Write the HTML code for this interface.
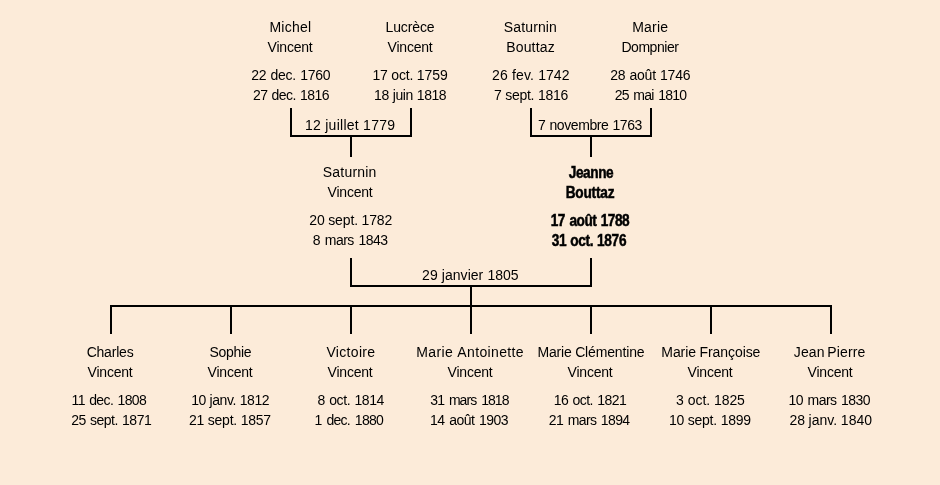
<!DOCTYPE html>
<html lang="fr">
<head>
<meta charset="utf-8">
<title>Arbre généalogique</title>
<style>
html,body{margin:0;padding:0}
body{width:940px;height:485px;background:#fcebd9;position:relative;overflow:hidden;font-family:"Liberation Sans",sans-serif;font-size:14px;color:#000}
#w{position:absolute;left:0;top:0;width:940px;height:485px;will-change:transform}
.t{position:absolute;width:200px;text-align:center;line-height:20px;white-space:nowrap}
.b{font-weight:bold;-webkit-text-stroke:0.5px #000;font-size:15.7px;transform:scaleX(0.87)}
.l{position:absolute;background:#000}
</style>
</head>
<body>
<div id="w">
<div class="t" style="left:190.37px;top:17px;letter-spacing:0.24px">Michel</div>
<div class="t" style="left:190.09px;top:37px;letter-spacing:-0.21px">Vincent</div>
<div class="t" style="left:190.66px;top:65px;letter-spacing:-0.3px;word-spacing:0.81px">22 dec. 1760</div>
<div class="t" style="left:190.98px;top:85px;letter-spacing:-0.56px;word-spacing:0.92px">27 dec. 1816</div>
<div class="t" style="left:310px;top:17px;letter-spacing:-0.14px">Lucrèce</div>
<div class="t" style="left:310.09px;top:37px;letter-spacing:-0.21px">Vincent</div>
<div class="t" style="left:310.03px;top:65px;letter-spacing:-0.11px;word-spacing:-0.3px">17 oct. 1759</div>
<div class="t" style="left:310.13px;top:85px;letter-spacing:-0.46px;word-spacing:0.65px">18 juin 1818</div>
<div class="t" style="left:430.43px;top:17px;letter-spacing:0.12px">Saturnin</div>
<div class="t" style="left:430.54px;top:37px;letter-spacing:0.18px">Bouttaz</div>
<div class="t" style="left:430.85px;top:65px;letter-spacing:0.07px;word-spacing:0.32px">26 fev. 1742</div>
<div class="t" style="left:430.99px;top:85px;letter-spacing:-0.26px;word-spacing:0.04px">7 sept. 1816</div>
<div class="t" style="left:550.27px;top:17px;letter-spacing:0.24px">Marie</div>
<div class="t" style="left:549.95px;top:37px;letter-spacing:-0.46px">Dompnier</div>
<div class="t" style="left:550.22px;top:65px;letter-spacing:-0.25px;word-spacing:0.62px">28 août 1746</div>
<div class="t" style="left:550.5px;top:85px;letter-spacing:-0.77px;word-spacing:1.58px">25 mai 1810</div>
<div class="t" style="left:249.7px;top:162px;letter-spacing:0.21px">Saturnin</div>
<div class="t" style="left:250.09px;top:182px;letter-spacing:-0.21px">Vincent</div>
<div class="t" style="left:250.8px;top:210px;letter-spacing:-0.11px;word-spacing:-0.28px">20 sept. 1782</div>
<div class="t" style="left:250.24px;top:230px;letter-spacing:-0.52px;word-spacing:1.33px">8 mars 1843</div>
<div class="t b" style="left:490.8px;top:163px;letter-spacing:-0.49px">Jeanne</div>
<div class="t b" style="left:489.85px;top:183px;letter-spacing:-0.22px">Bouttaz</div>
<div class="t b" style="left:489.74px;top:211px;letter-spacing:-0.53px;word-spacing:1.21px">17 août 1788</div>
<div class="t b" style="left:488.76px;top:231px;letter-spacing:-0.35px;word-spacing:0.38px">31 oct. 1876</div>
<div class="t" style="left:10.05px;top:342px;letter-spacing:-0.2px">Charles</div>
<div class="t" style="left:10.09px;top:362px;letter-spacing:-0.21px">Vincent</div>
<div class="t" style="left:8.85px;top:390px;letter-spacing:-0.64px;word-spacing:1.19px">11 dec. 1808</div>
<div class="t" style="left:11.27px;top:410px;letter-spacing:-0.46px;word-spacing:0.65px">25 sept. 1871</div>
<div class="t" style="left:130.35px;top:342px;letter-spacing:-0.28px">Sophie</div>
<div class="t" style="left:130.09px;top:362px;letter-spacing:-0.21px">Vincent</div>
<div class="t" style="left:130.14px;top:390px;letter-spacing:-0.44px;word-spacing:0.34px">10 janv. 1812</div>
<div class="t" style="left:129.91px;top:410px;letter-spacing:-0.26px;word-spacing:0.26px">21 sept. 1857</div>
<div class="t" style="left:250.92px;top:342px;letter-spacing:0.32px">Victoire</div>
<div class="t" style="left:250.09px;top:362px;letter-spacing:-0.21px">Vincent</div>
<div class="t" style="left:250.77px;top:390px;letter-spacing:-0.39px;word-spacing:0.75px">8 oct. 1814</div>
<div class="t" style="left:248.82px;top:410px;letter-spacing:-0.71px;word-spacing:1.64px">1 dec. 1880</div>
<div class="t" style="left:370.18px;top:342px;letter-spacing:0.36px;word-spacing:0.71px">Marie Antoinette</div>
<div class="t" style="left:370.09px;top:362px;letter-spacing:-0.21px">Vincent</div>
<div class="t" style="left:369.41px;top:390px;letter-spacing:-0.95px;word-spacing:1.98px">31 mars 1818</div>
<div class="t" style="left:369.04px;top:410px;letter-spacing:-0.56px;word-spacing:1.45px">14 août 1903</div>
<div class="t" style="left:490.95px;top:342px;letter-spacing:-0.15px;word-spacing:-0.23px">Marie Clémentine</div>
<div class="t" style="left:490.09px;top:362px;letter-spacing:-0.21px">Vincent</div>
<div class="t" style="left:489.95px;top:390px;letter-spacing:-0.56px;word-spacing:1.02px">16 oct. 1821</div>
<div class="t" style="left:489.21px;top:410px;letter-spacing:-0.6px;word-spacing:1.15px">21 mars 1894</div>
<div class="t" style="left:610.83px;top:342px;letter-spacing:-0.07px;word-spacing:-0.3px">Marie Françoise</div>
<div class="t" style="left:610.09px;top:362px;letter-spacing:-0.21px">Vincent</div>
<div class="t" style="left:610.43px;top:390px;letter-spacing:-0.12px;word-spacing:0.39px">3 oct. 1825</div>
<div class="t" style="left:609.83px;top:410px;letter-spacing:-0.26px;word-spacing:0.18px">10 sept. 1899</div>
<div class="t" style="left:729.6px;top:342px;letter-spacing:0.15px;word-spacing:-1.53px">Jean Pierre</div>
<div class="t" style="left:730.09px;top:362px;letter-spacing:-0.21px">Vincent</div>
<div class="t" style="left:729.26px;top:390px;letter-spacing:-0.56px;word-spacing:1.32px">10 mars 1830</div>
<div class="t" style="left:730.74px;top:410px;letter-spacing:0.02px;word-spacing:-0.31px">28 janv. 1840</div>
<div class="t" style="left:250.17px;top:115px;letter-spacing:0.26px;word-spacing:-0.03px">12 juillet 1779</div>
<div class="t" style="left:490.01px;top:115px;letter-spacing:-0.41px;word-spacing:0.56px">7 novembre 1763</div>
<div class="t" style="left:370.42px;top:265px;letter-spacing:0.03px;word-spacing:0.19px">29 janvier 1805</div>
<div class="l" style="left:290px;top:108px;width:2px;height:29px"></div>
<div class="l" style="left:410px;top:108px;width:2px;height:29px"></div>
<div class="l" style="left:290px;top:135px;width:122px;height:2px"></div>
<div class="l" style="left:350px;top:137px;width:2px;height:20px"></div>
<div class="l" style="left:530px;top:108px;width:2px;height:29px"></div>
<div class="l" style="left:650px;top:108px;width:2px;height:29px"></div>
<div class="l" style="left:530px;top:135px;width:122px;height:2px"></div>
<div class="l" style="left:590px;top:137px;width:2px;height:20px"></div>
<div class="l" style="left:350px;top:258px;width:2px;height:29px"></div>
<div class="l" style="left:590px;top:258px;width:2px;height:29px"></div>
<div class="l" style="left:350px;top:285px;width:242px;height:2px"></div>
<div class="l" style="left:470px;top:287px;width:2px;height:18px"></div>
<div class="l" style="left:110px;top:305px;width:722px;height:2px"></div>
<div class="l" style="left:110px;top:307px;width:2px;height:27px"></div>
<div class="l" style="left:230px;top:307px;width:2px;height:27px"></div>
<div class="l" style="left:350px;top:307px;width:2px;height:27px"></div>
<div class="l" style="left:470px;top:307px;width:2px;height:27px"></div>
<div class="l" style="left:590px;top:307px;width:2px;height:27px"></div>
<div class="l" style="left:710px;top:307px;width:2px;height:27px"></div>
<div class="l" style="left:830px;top:307px;width:2px;height:27px"></div>
</div>
</body>
</html>
